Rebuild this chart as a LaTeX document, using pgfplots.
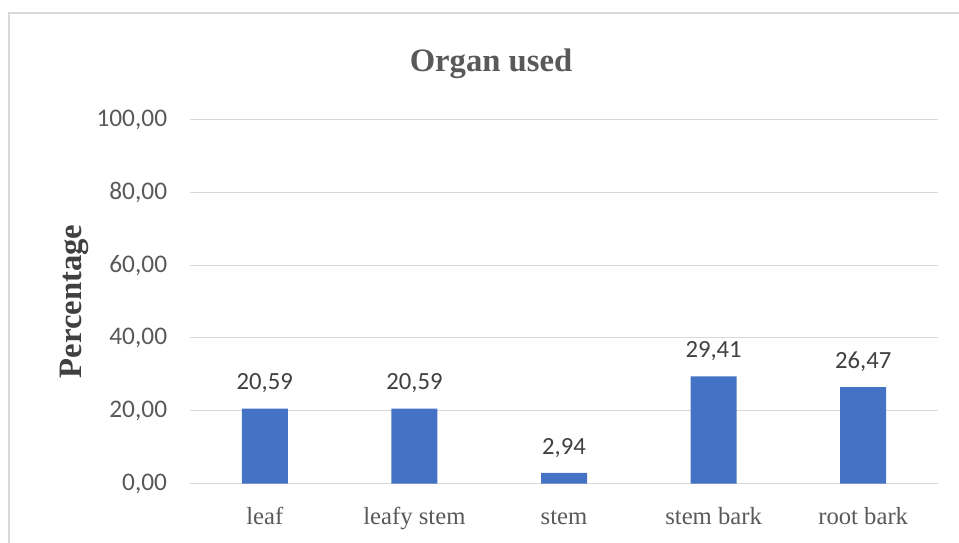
\documentclass[border=0pt]{standalone}
\usepackage{pgfplots}
\pgfplotsset{compat=1.18}
\usepackage{fontspec}
\setmainfont{Liberation Serif}
\newfontfamily\carlito{Carlito}
\definecolor{barblue}{HTML}{4472C4}
\definecolor{gridgrey}{HTML}{D9D9D9}
\definecolor{ticktext}{HTML}{595959}
\definecolor{labeltext}{HTML}{404040}
\begin{document}
\begin{tikzpicture}
\useasboundingbox (0,0) rectangle (719.25pt,406.5pt);
% outer chart frame (px -> pt: x*0.75, (542-y)*0.75)
\draw[gridgrey, line width=1.1pt] (6.75pt,-5pt) -- (6.75pt,396.75pt) -- (730pt,396.75pt);
\begin{axis}[
  at={(142.5pt,43.875pt)}, anchor=south west,
  scale only axis, width=561pt, height=273pt,
  xmin=-0.5, xmax=4.5, ymin=0, ymax=100,
  xtick={0,1,2,3,4},
  xticklabels={leaf, leafy stem, stem, stem bark, root bark},
  ytick={0,20,40,60,80,100},
  ymajorgrids, grid style={gridgrey, line width=0.8pt},
  axis line style={draw=none},
  major tick length=0pt,
  /pgf/number format/.cd, fixed, fixed zerofill, precision=2, use comma, assume math mode=true,
  /pgfplots/.cd,
  yticklabel style={font=\carlito\fontsize{19}{19}\selectfont, text=ticktext, inner sep=0pt, anchor=east, xshift=-17pt},
  xticklabel style={font=\fontsize{18.5}{18.5}\selectfont, text=ticktext, inner sep=0pt, anchor=base, yshift=-31pt},
  title={Organ used},
  title style={font=\bfseries\fontsize{24.5}{24.5}\selectfont, text=ticktext, at={(axis description cs:0.4024,1)}, anchor=base, yshift=30pt, inner sep=0pt},
  ylabel={Percentage},
  every axis y label/.style={at={(axis description cs:-0.1551,0.5)}, rotate=90, anchor=center, inner sep=0pt, font=\bfseries\fontsize{24.5}{24.5}\selectfont, text=labeltext},
  nodes near coords,
  every node near coord/.append style={font=\carlito\fontsize{18.5}{18.5}\selectfont, text=labeltext, anchor=base, inner sep=0pt, yshift=14pt},
]
\addplot[ybar, bar width=34.5pt, fill=barblue, draw=none] coordinates {
  (0,20.59) (1,20.59) (2,2.94) (3,29.41) (4,26.47)
};
\end{axis}
\end{tikzpicture}
\end{document}
